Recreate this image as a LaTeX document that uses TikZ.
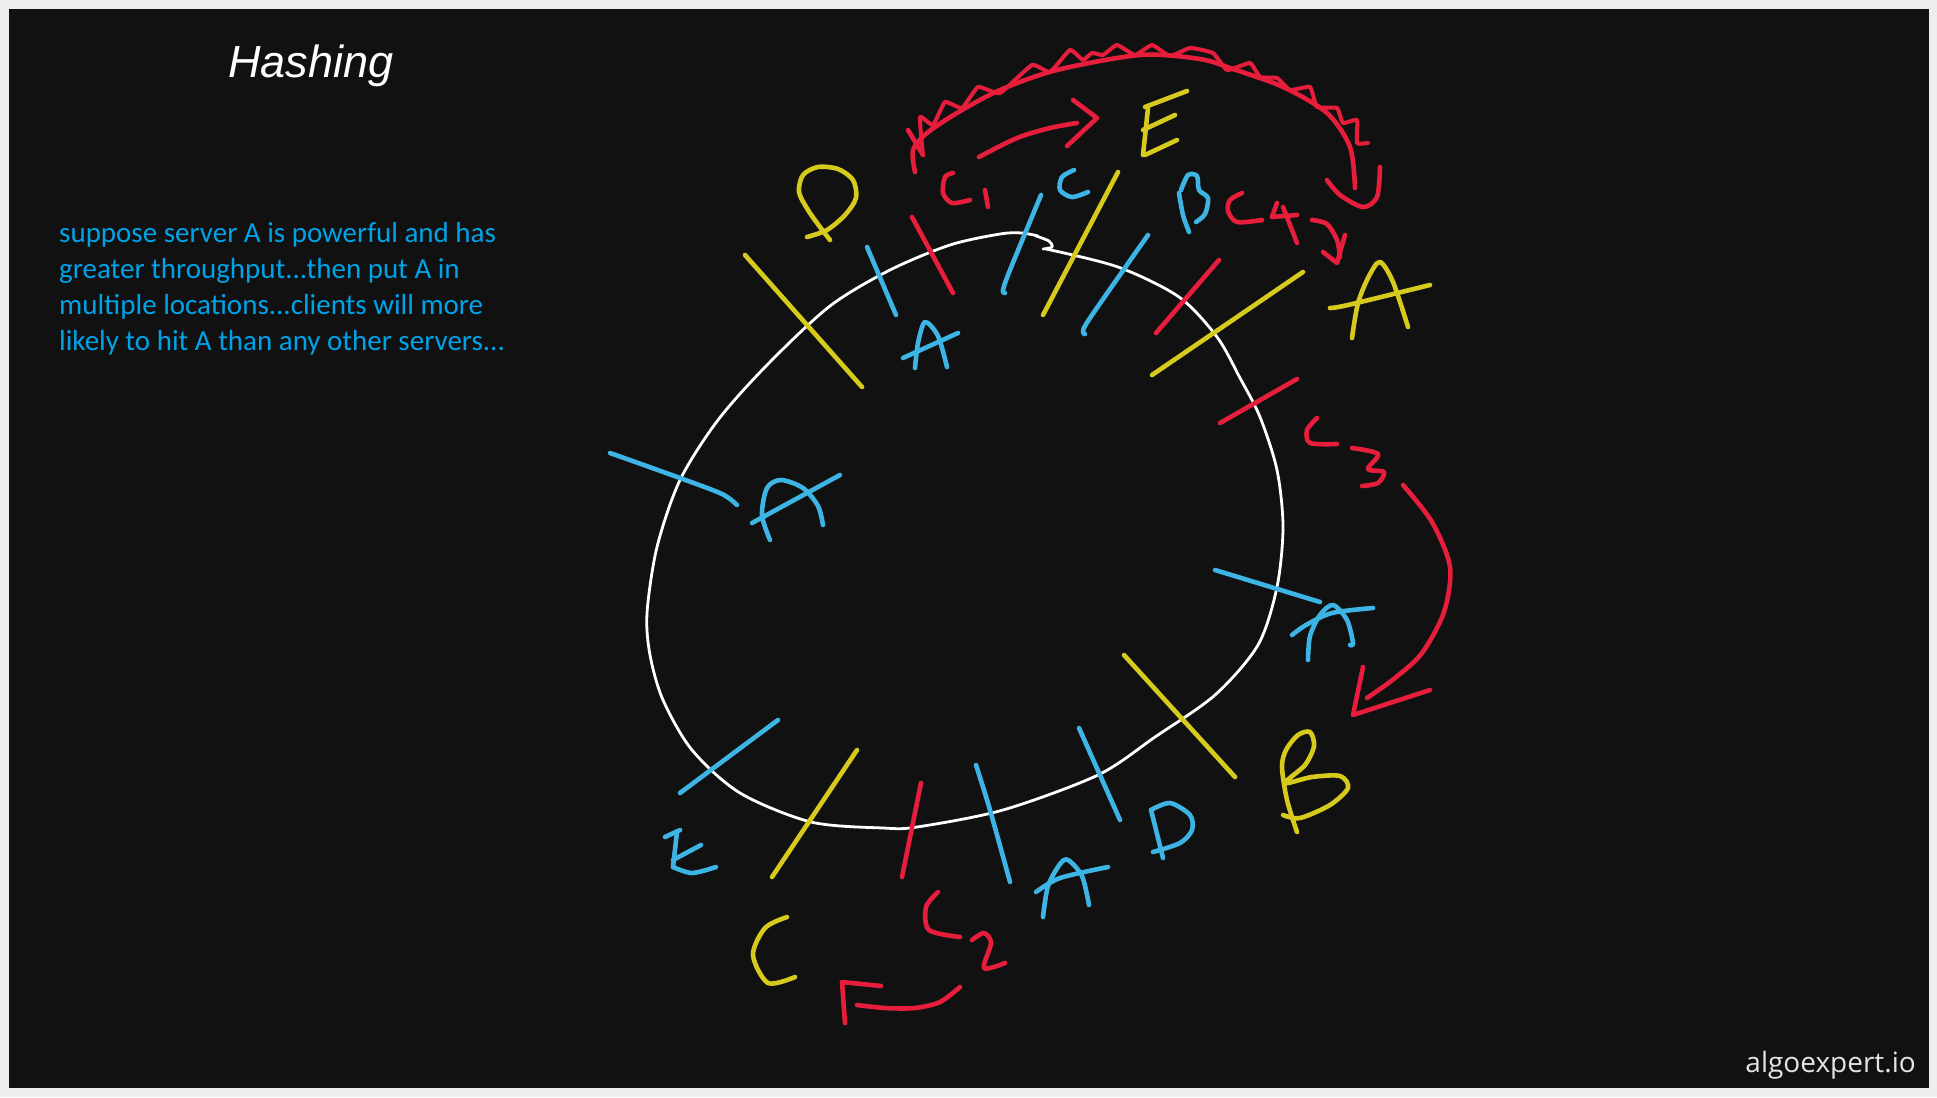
\documentclass[tikz,border=0pt]{standalone}
\usepackage{fontspec}
\setmainfont{Carlito}
\newfontfamily\titlefont{Liberation Sans}
\newfontfamily\logofont{Open Sans}
\definecolor{panel}{HTML}{111111}
\definecolor{frame}{HTML}{EEEEEE}
\definecolor{penblue}{HTML}{3DB4E4}
\definecolor{penyellow}{HTML}{D6CB1C}
\definecolor{penred}{HTML}{E61E3C}
\definecolor{txtblue}{HTML}{00A2E8}
\definecolor{logogray}{HTML}{E4E4E4}
\begin{document}
\begin{tikzpicture}[x=1pt,y=-1pt,line cap=round,line join=round,
  ink/.style={line width=4.6pt},
  blu/.style={ink,draw=penblue},
  yel/.style={ink,draw=penyellow},
  rd/.style={ink,draw=penred},
  ring/.style={line width=2.8pt,draw=white},
  para/.style={anchor=base west,inner sep=0pt,text=txtblue,font=\fontsize{29}{36}\selectfont}]
\useasboundingbox (0,0) rectangle (1937,1097);
\fill[frame] (0,0) rectangle (1937,1097);
\fill[panel] (9,9) rectangle (1929,1088);

% texts
\node[anchor=base west,inner sep=0pt,text=white,font=\titlefont\itshape\fontsize{45}{54}\selectfont] (title) at (228,78) {Hashing};
\node[para] (l1) at (59,242) {suppose server A is powerful and has};
\node[para] (l2) at (59,278) {greater throughput...then put A in};
\node[para] (l3) at (59,314) {multiple locations...clients will more};
\node[para] (l4) at (59,350) {likely to hit A than any other servers...};
\node[anchor=base east,inner sep=0pt,text=logogray,font=\logofont\fontsize{28}{34}\selectfont] (logo) at (1916,1072) {algoexpert.io};

% ring
\draw[ring] plot[smooth] coordinates {(1046,249) (1118,267) (1179,297) (1217,337) (1240,378) (1260,417) (1277,470) (1283,527) (1277,587) (1258,645) (1215,695) (1155,737) (1098,775) (1003,810) (917,827) (883,828) (811,822) (740,793) (692,750) (663,700) (650,655) (647,613) (657,547) (680,480) (718,420) (768,364) (830,306) (890,270) (950,245) (1000,234) (1022,233) (1038,236)};
\draw[ring] plot[smooth] coordinates {(1036,236) (1049,241) (1052,247) (1043,249)};

% yellow ticks
\draw[yel] (745,255) -- (862,387);
\draw[yel] (1118,172) -- (1043,315);
\draw[yel] (1303,272) -- (1152,375);
\draw[yel] (1124,655) -- (1235,777);
\draw[yel] (857,750) -- (772,877);
% blue ticks
\draw[blu] (867,247) -- (896,315);
\draw[blu] plot[smooth] coordinates {(1041,195) (1010,270) (1003,290) (1005,293)};
\draw[blu] plot[smooth] coordinates {(1148,235) (1090,318) (1083,332) (1085,334)};
\draw[blu] plot[smooth] coordinates {(610,453) (680,478) (722,494) (737,505)};
\draw[blu] (1215,570) -- (1320,602);
\draw[blu] (1079,728) -- (1120,820);
\draw[blu] plot[smooth] coordinates {(976,765) (990,810) (1010,882)};
\draw[blu] (778,720) -- (680,793);
% red ticks
\draw[rd] (912,217) -- (953,293);
\draw[rd] (1219,260) -- (1156,333);
\draw[rd] (1297,379) -- (1220,423);
\draw[rd] (921,783) -- (902,877);

% yellow letters
\draw[yel] plot[smooth] coordinates {(807,237) (827,230) (845,215) (856,198) (853,180) (838,169) (818,167) (803,175) (799,192) (808,210) (820,227) (830,240)};
\draw[yel] (1145,107) -- (1187,91);
\draw[yel] (1148,108) -- (1143,155);
\draw[yel] (1143,130) -- (1175,115);
\draw[yel] (1145,155) -- (1177,140);
\draw[yel] plot[smooth] coordinates {(1352,338) (1358,303) (1369,276) (1380,262) (1393,282) (1408,327)};
\draw[yel] plot[smooth] coordinates {(1330,308) (1348,305) (1430,285)};
\draw[yel] plot[smooth] coordinates {(1297,832) (1287,800) (1282,767) (1286,750) (1298,735) (1310,732) (1314,746) (1305,765) (1285,783) (1312,777) (1340,776) (1348,788) (1330,805) (1300,818) (1283,815)};
\draw[yel] plot[smooth] coordinates {(787,917) (765,928) (753,955) (768,983) (795,977)};

% blue letters
\draw[blu] plot[smooth] coordinates {(1074,170) (1062,177) (1060,190) (1072,197) (1088,192)};
\draw[blu] plot[smooth] coordinates {(1189,232) (1183,215) (1179,193)};
\draw[blu] plot[smooth] coordinates {(1181,190) (1188,175) (1197,176) (1199,190) (1208,198) (1205,214) (1196,222)};
\draw[blu] plot[smooth] coordinates {(915,368) (918,343) (925,322) (938,336) (947,367)};
\draw[blu] (903,358) -- (958,333);
\draw[blu] plot[smooth] coordinates {(770,540) (762,515) (767,488) (781,480) (803,488) (818,506) (823,525)};
\draw[blu] (752,523) -- (840,475);
\draw[blu] plot[smooth] coordinates {(1308,660) (1310,636) (1320,615) (1333,605) (1347,620) (1353,643) (1350,645)};
\draw[blu] plot[smooth] coordinates {(1292,635) (1306,625) (1332,613) (1373,608)};
\draw[blu] plot[smooth] coordinates {(1043,917) (1048,886) (1060,864) (1068,860) (1082,876) (1089,905)};
\draw[blu] plot[smooth] coordinates {(1036,892) (1060,878) (1108,867)};
\draw[blu] (1163,858) -- (1151,810);
\draw[blu] plot[smooth] coordinates {(1151,810) (1170,803) (1190,815) (1192,830) (1180,843) (1153,852)};
\draw[blu] (665,837) -- (680,830);
\draw[blu] (677,832) -- (673,867);
\draw[blu] (673,860) -- (701,845);
\draw[blu] plot[smooth] coordinates {(673,867) (692,873) (716,867)};

% red writing
\draw[rd] plot[smooth] coordinates {(953,173) (945,177) (943,193) (952,203) (970,200)};
\draw[rd] (985,190) -- (988,207);
\draw[rd] plot[smooth] coordinates {(979,157) (1017,138) (1050,128) (1077,123)};
\draw[rd] (1073,100) -- (1097,118) -- (1067,146);
\draw[rd] plot[smooth] coordinates {(1242,193) (1230,200) (1228,211) (1237,222) (1262,220)};
\draw[rd] (1277,203) -- (1272,217) -- (1297,215);
\draw[rd] (1283,207) -- (1297,243);
\draw[rd] plot[smooth] coordinates {(1312,220) (1327,224) (1337,240) (1340,257)};
\draw[rd] (1323,252) -- (1337,263) -- (1345,235);
\draw[rd] plot[smooth] coordinates {(1317,418) (1307,430) (1310,443) (1337,444)};
\draw[rd] plot[smooth] coordinates {(1352,448) (1378,454) (1368,469) (1384,472) (1378,483) (1362,486)};
\draw[rd] plot[smooth] coordinates {(1403,485) (1432,522) (1450,567) (1444,612) (1422,653) (1395,678) (1367,698)};
\draw[rd] (1363,667) -- (1353,715) -- (1430,690);
\draw[rd] plot[smooth] coordinates {(938,892) (926,907) (929,930) (960,937)};
\draw[rd] plot[smooth] coordinates {(972,940) (984,933) (991,943) (984,968) (1005,963)};
\draw[rd] plot[smooth] coordinates {(960,987) (940,1002) (915,1008) (885,1008) (857,1005)};
\draw[rd] (845,1023) -- (842,982) -- (881,986);

% red wavy arc
\draw[rd] plot[smooth] coordinates {(915,172) (913,150) (927,133) (957,113) (1000,90) (1057,70) (1140,55) (1200,59) (1233,69) (1283,87) (1327,113) (1350,147) (1355,188)};
\draw[rd] (908,130) -- (923,155);
\draw[rd,line width=4pt] plot[smooth,tension=0.25] coordinates {(923,155) (920,117) (933,125) (945,102) (962,108) (978,87) (1000,93) (1032,65) (1050,72) (1070,50) (1083,60) (1092,53) (1103,55) (1117,45) (1135,55) (1152,45) (1170,56) (1190,48) (1213,53) (1227,70) (1250,63) (1260,77) (1277,78) (1290,90) (1310,87) (1317,107) (1337,108) (1343,123) (1357,120) (1357,143) (1368,143)};
\draw[rd] plot[smooth] coordinates {(1327,180) (1340,195) (1363,207) (1377,197) (1380,167)};
\end{tikzpicture}
\end{document}
